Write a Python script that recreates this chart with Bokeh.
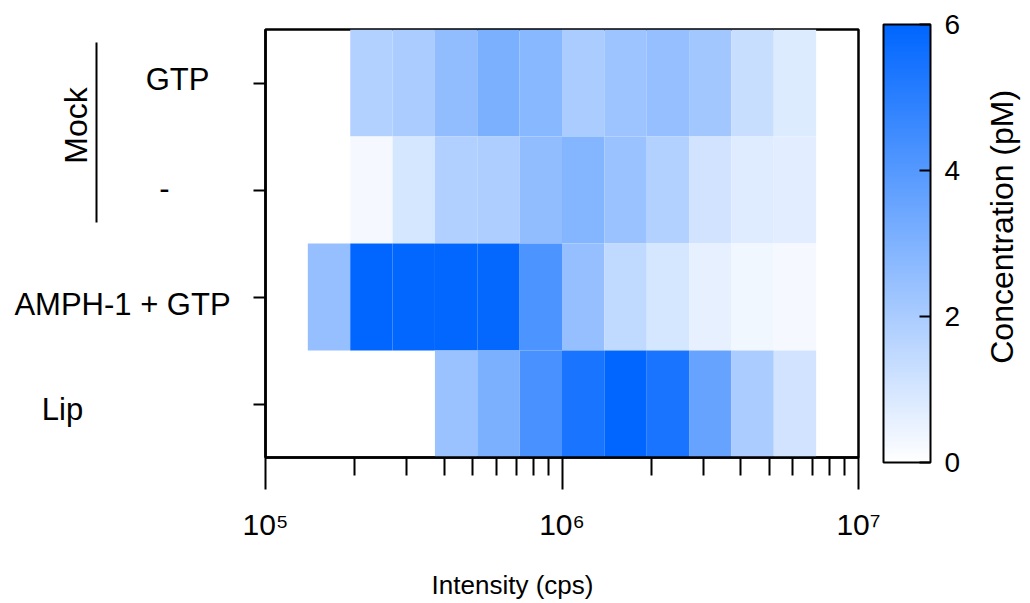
import math
from bokeh.plotting import figure
from bokeh.layouts import row, column
from bokeh.models import (ColumnDataSource, LinearColorMapper, ColorBar, FixedTicker,
                          Range1d, CustomJSTickFormatter)
from bokeh.core.properties import value
from bokeh.embed import file_html
from bokeh.resources import INLINE

# ---------------- data ----------------
rows = ["GTP", "-", "AMPH-1 + GTP", "Lip"]          # top to bottom
group_label = "Mock"                                  # groups the first two rows
bin_edges = [1.389e5, 1.931e5, 2.683e5, 3.728e5, 5.179e5, 7.197e5, 1.0e6,
             1.389e6, 1.931e6, 2.683e6, 3.728e6, 5.179e6, 7.197e6]
conc_gtp = [None, 1.8, 2.0, 2.6, 3.1, 2.8, 2.0, 2.3, 2.5, 2.2, 1.3, 0.8]
conc_minus = [None, 0.25, 1.0, 1.85, 1.9, 2.6, 2.9, 2.4, 1.8, 1.1, 0.75, 0.7]
conc_amph = [2.5, 6.0, 5.95, 5.95, 5.9, 4.2, 2.5, 1.5, 1.0, 0.6, 0.35, 0.25]
conc_lip = [None, None, None, 2.4, 3.1, 4.3, 5.4, 6.0, 5.4, 3.6, 2.0, 1.1]
row_values = [conc_gtp, conc_minus, conc_amph, conc_lip]
x_ticks = [1e5, 1e6, 1e7]
x_tick_labels = ["10\u2075", "10\u2076", "10\u2077"]
cbar_ticks = [0, 2, 4, 6]
x_title = "Intensity (cps)"
cbar_title = "Concentration  (pM)"

# ---------------- layout constants (pixels) ----------------
FONT = "Liberation Sans"
TOP, FRAME_H, BOT = 29, 428, 100
LEFT_W, MAIN_W, RIGHT_W = 240, 740, 50
MAIN_H = TOP + FRAME_H + BOT          # 557
BOTTOM_H = 603 - MAIN_H               # 46
BASE_SHIFT = 13                       # renderer's alphabetic-baseline shift (px)

n = len(rows)
y_range = Range1d(0, n)

# ---------------- table ----------------
left, right, bottom, top, val = [], [], [], [], []
for i, vals in enumerate(row_values):
    for j, v in enumerate(vals):
        if v is None:
            continue
        left.append(bin_edges[j]); right.append(bin_edges[j + 1])
        bottom.append(n - 1 - i); top.append(n - i); val.append(v)
src = ColumnDataSource(dict(left=left, right=right, bottom=bottom, top=top, val=val))

c0 = (255, 255, 255); c1 = (0, 102, 255)
palette = ["#%02x%02x%02x" % tuple(round(a + (b - a) * k / 255) for a, b in zip(c0, c1))
           for k in range(256)]
mapper = LinearColorMapper(palette=palette, low=0, high=6)


def blank(fig):
    fig.background_fill_color = "white"
    fig.border_fill_color = "white"
    fig.outline_line_color = None
    fig.grid.visible = False
    return fig


# ---------------- main heatmap ----------------
p = figure(width=MAIN_W, height=MAIN_H, x_axis_type="log", x_range=(1e5, 1e7),
           y_range=y_range, output_backend="svg", toolbar_location=None,
           min_border_left=25, min_border_right=MAIN_W - 25 - 593,
           min_border_top=TOP, min_border_bottom=BOT)
blank(p)
p.outline_line_color = "black"
p.outline_line_width = 2.5

p.quad(left="left", right="right", bottom="bottom", top="top", source=src,
       fill_color={"field": "val", "transform": mapper}, line_color=None)

xa = p.xaxis[0]
xa.ticker = FixedTicker(ticks=x_ticks,
                        minor_ticks=[m * d for d in (1e5, 1e6) for m in range(2, 10)])
xa.major_label_overrides = {int(t): lab for t, lab in zip(x_ticks, x_tick_labels)}
xa.major_tick_out = 32; xa.major_tick_in = 0
xa.minor_tick_out = 18; xa.minor_tick_in = 0
xa.major_tick_line_width = 2; xa.minor_tick_line_width = 2
xa.major_tick_line_color = "black"; xa.minor_tick_line_color = "black"
xa.axis_line_width = 2.5; xa.axis_line_color = "black"
xa.major_label_text_font = FONT
xa.major_label_text_font_size = "30px"
xa.major_label_text_color = "black"
xa.major_label_standoff = 18

ya = p.yaxis[0]
ya.ticker = FixedTicker(ticks=[k + 0.5 for k in range(n)])
ya.formatter = CustomJSTickFormatter(code="return ''")
ya.major_tick_out = 12; ya.major_tick_in = 0
ya.major_tick_line_width = 2; ya.major_tick_line_color = "black"
ya.minor_tick_line_color = None
ya.axis_line_width = 2.5; ya.axis_line_color = "black"
ya.major_label_standoff = 0

cb = ColorBar(color_mapper=mapper, location=(618, -5), width=47, height=438,
              padding=0, margin=0, bar_line_color="black", bar_line_width=2,
              ticker=FixedTicker(ticks=cbar_ticks),
              major_tick_in=11, major_tick_out=0, major_tick_line_color="black",
              major_tick_line_width=2, minor_tick_line_color=None,
              major_label_text_font=FONT, major_label_text_font_size="28px",
              major_label_text_color="black", label_standoff=14,
              border_line_color=None, background_fill_color=None)
p.add_layout(cb)

# ---------------- left: row labels ----------------
lf = figure(width=LEFT_W, height=MAIN_H, x_range=(0, LEFT_W), y_range=y_range,
            output_backend="svg", toolbar_location=None,
            x_axis_location=None, y_axis_location=None,
            min_border_left=0, min_border_right=0, min_border_top=TOP, min_border_bottom=BOT)
blank(lf)
row_src = ColumnDataSource(dict(
    text=rows,
    y=[n - 1 - i + 0.5 for i in range(n)],
    x=[177, 164, 122, 62],                      # label centres (px)
    yoff=[d - BASE_SHIFT for d in (9.5, 11, 20, 18.5)],   # baseline below row centre
))
lf.text(x="x", y="y", text="text", y_offset="yoff", source=row_src,
        text_font=value(FONT), text_font_size="31px", text_color="black",
        text_align="center", text_baseline="alphabetic")

def py(Y):  # canvas pixel row -> data y inside the shared frame
    return n - (Y - TOP) / FRAME_H * n

lf.text(x=[88 - BASE_SHIFT], y=[py(125)], text=[group_label], angle=math.pi / 2,
        text_font=value(FONT), text_font_size="32px", text_color="black",
        text_align="center", text_baseline="alphabetic")
lf.segment(x0=[96], x1=[96], y0=[py(42)], y1=[py(222)], line_color="black", line_width=2)

# ---------------- right: colour-bar title ----------------
rf = figure(width=RIGHT_W, height=MAIN_H, x_range=(0, RIGHT_W), y_range=(0, MAIN_H),
            output_backend="svg", toolbar_location=None,
            x_axis_location=None, y_axis_location=None,
            min_border_left=0, min_border_right=0, min_border_top=0, min_border_bottom=0)
blank(rf)
rf.text(x=[1014 - (LEFT_W + MAIN_W) - BASE_SHIFT], y=[MAIN_H - 251], text=[cbar_title],
        angle=math.pi / 2,
        text_font=value(FONT), text_font_size="32px", text_color="black",
        text_align="center", text_baseline="alphabetic")

# ---------------- bottom: x title ----------------
bf = figure(width=1030, height=BOTTOM_H, x_range=(0, 1030), y_range=(0, BOTTOM_H),
            output_backend="svg", toolbar_location=None,
            x_axis_location=None, y_axis_location=None,
            min_border_left=0, min_border_right=0, min_border_top=0, min_border_bottom=0)
blank(bf)
bf.text(x=[512], y=[BOTTOM_H - (595 - MAIN_H - 11)], text=[x_title],
        text_font=value(FONT), text_font_size="26px", text_color="black",
        text_align="center", text_baseline="alphabetic")

layout = column(row(lf, p, rf), bf)
open("out.html", "w").write(file_html(layout, INLINE))
